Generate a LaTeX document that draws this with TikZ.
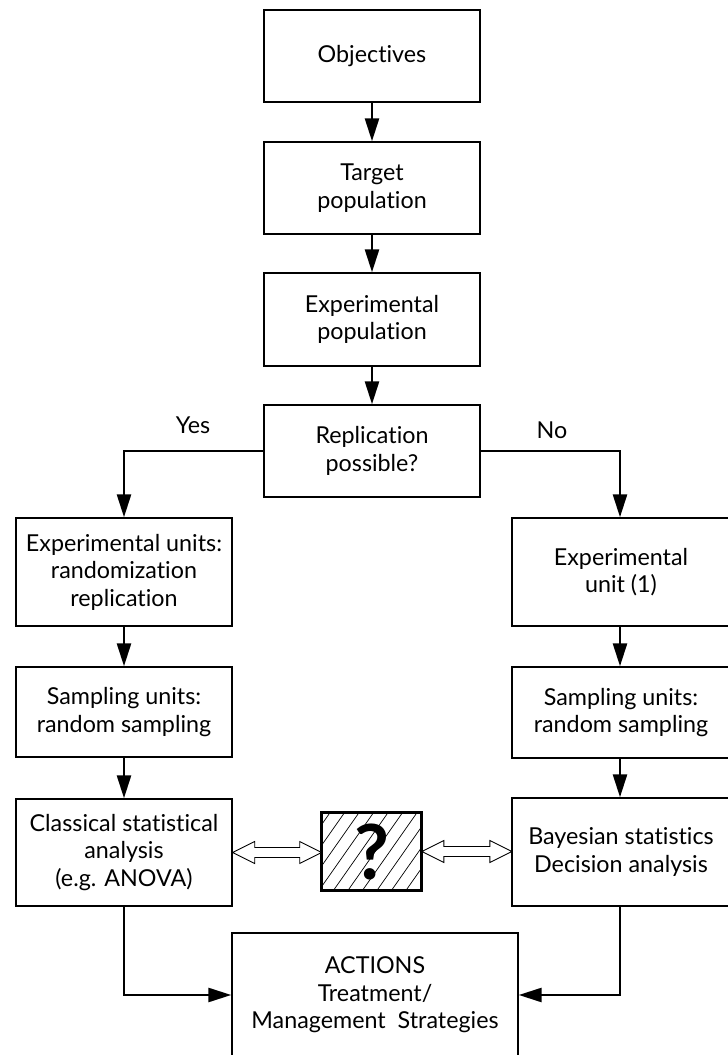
\documentclass[tikz,border=0pt]{standalone}
\usepackage{fontspec}
\setmainfont{Lato}[Ligatures=NoCommon]
\usetikzlibrary{arrows.meta,calc}
\begin{document}
\begin{tikzpicture}[x=1pt,y=1pt,
  txt/.style={font=\fontsize{23.3}{27.5}\selectfont},
  box/.style={txt, draw=black, line width=1.4pt, fill=white, align=center,
              inner sep=0pt, minimum width=216pt},
  sidebox/.style={box, minimum width=218pt},
  conn/.style={line width=2.6pt, -{Triangle[length=23pt,width=14pt]}},
  hollow/.style={draw=black, line width=0.9pt, fill=white, line join=miter},
  hatch/.style={line width=0.7pt}
]
\useasboundingbox (0,0) rectangle (728,1055);

% central column
\node[box, minimum height=92pt] (obj) at (372,999) {Objectives};
\node[box, minimum height=92pt] (tgt) at (372,867) {Target\\population};
\node[box, minimum height=93pt] (pop) at (372,735.5) {Experimental\\population};
\node[box, minimum height=92pt] (rep) at (372,604) {Replication\\possible?};

% left branch (replication possible)
\node[box, minimum height=108pt] (leu) at (124,483) {Experimental units:\\randomization\\replication};
\node[box, minimum height=90pt]  (lsu) at (124,343) {Sampling units:\\random sampling};
\node[box, minimum height=107pt] (cls) at (124,202.5) {Classical statistical\\analysis\\(e.g. ANOVA)};

% right branch (no replication)
\node[sidebox, minimum height=108pt] (reu) at (621,483) {Experimental\\unit (1)};
\node[sidebox, minimum height=91pt]  (rsu) at (621,342.5) {Sampling units:\\random sampling};
\node[sidebox, minimum height=108pt] (bay) at (621,203) {Bayesian statistics\\Decision analysis};

% outcome
\node[box, minimum width=286pt, minimum height=124pt] (act) at (375,60)
  {ACTIONS\\Treatment/\\Management\ \ Strategies};

% hatched question box
\node[draw=black, line width=1.6pt, fill=white, minimum width=99pt,
      minimum height=77pt, inner sep=0pt] (q) at (371.5,203.5) {};
\begin{scope}
  \clip (q.south west) rectangle (q.north east);
  \foreach \d in {-75,-60.5,...,120}
    \draw[hatch] ($(q.south west)+(\d,0)$) -- ++(54,77);
\end{scope}
\draw[line width=1.6pt] (q.south west) rectangle (q.north east);
\node[font=\fontsize{76}{76}\bfseries\selectfont, inner sep=0pt] (qm) at (q.center) {?};

% branch labels
\node[txt] (yes) at (193,630) {Yes};
\node[txt] (no)  at (552,625) {No};

% flow connectors
\draw[conn] (obj) -- (tgt);
\draw[conn] (tgt) -- (pop);
\draw[conn] (pop) -- (rep);
\draw[conn] (rep.west) -| (leu.north);
\draw[conn] (rep.east) -| ([xshift=-1pt]reu.north);
\draw[conn] (leu) -- (lsu);
\draw[conn] (lsu) -- (cls);
\draw[conn] ([xshift=-1pt]reu.south) -- ([xshift=-1pt]rsu.north);
\draw[conn] ([xshift=-1pt]rsu.south) -- ([xshift=-1pt]bay.north);
\draw[conn] (cls.south) |- (act.west);
\draw[conn] ([xshift=-1pt]bay.south) |- (act.east);

% two-way comparison arrows
\draw[hollow] (cls.east) -- ++(22,11) -- ++(0,-6) -- ++(45,0) -- ++(0,6)
  -- ++(22,-11) -- ++(-22,-11) -- ++(0,6) -- ++(-45,0) -- ++(0,-6) -- cycle;
\draw[hollow] (q.east) -- ++(22,11) -- ++(0,-6) -- ++(46,0) -- ++(0,6)
  -- ++(22,-11) -- ++(-22,-11) -- ++(0,6) -- ++(-46,0) -- ++(0,-6) -- cycle;
\end{tikzpicture}
\end{document}
